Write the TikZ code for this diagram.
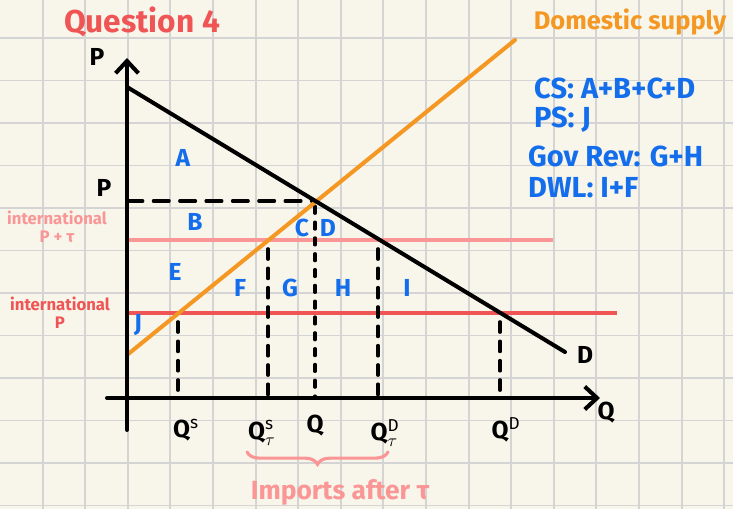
\documentclass[tikz,border=0pt]{standalone}
\usepackage{fontspec}
\setmainfont{Fira Sans}
\usetikzlibrary{arrows.meta,decorations.pathreplacing}

\definecolor{paper}{RGB}{248,246,235}
\definecolor{gridgray}{RGB}{212,212,212}
\definecolor{supplyorange}{RGB}{245,152,35}
\definecolor{tariffpink}{RGB}{250,150,150}
\definecolor{worldred}{RGB}{240,85,85}
\definecolor{labelblue}{RGB}{20,110,235}

\begin{document}
\begin{tikzpicture}[x=0.02cm,y=-0.02cm,
  gridline/.style={gridgray,line width=1.1pt},
  axis/.style={line width=2.3pt,line cap=round,-{Straight Barb[length=7pt,width=13pt]}},
  curve/.style={line width=2.3pt,line cap=round},
  guide/.style={line width=1.8pt,line cap=round,dash pattern=on 6pt off 5pt},
  area/.style={labelblue,font=\bfseries\fontsize{14}{14}\selectfont},
  qlabel/.style={font=\bfseries\fontsize{14}{14}\selectfont},
  note/.style={labelblue,font=\bfseries\fontsize{16.5}{16.5}\selectfont,anchor=west},
  small/.style={font=\bfseries\fontsize{9.5}{10}\selectfont,align=center}]
% paper and grid
\useasboundingbox (0,0) rectangle (733,509);
\fill[paper] (0,0) rectangle (733,509);
\foreach \i in {1,...,17} \draw[gridline] (42.6*\i,0) -- (42.6*\i,509);
\foreach \j in {0,...,11} \draw[gridline] (0,38+42.5*\j) -- (733,38+42.5*\j);
% key points
\coordinate (O) at (127,398);
\coordinate (ytop) at (127,58);
\coordinate (ybot) at (127,430);
\coordinate (xleft) at (107,398);
\coordinate (xright) at (600,398);
\coordinate (dtop) at (127,87);
\coordinate (dend) at (565,352);
\coordinate (sbot) at (127,355);
\coordinate (stop) at (515,40);
\coordinate (eq) at (315,201);
\coordinate (tleft) at (127,240);
\coordinate (tright) at (553,240);
\coordinate (wleft) at (127,313);
\coordinate (wright) at (617,313);
\coordinate (qsT) at (268,240);
\coordinate (qdT) at (378,240);
\coordinate (qs) at (178,313);
\coordinate (qd) at (500,313);
% price lines
\draw[tariffpink,line width=1.8pt] (tleft) -- (tright);
\draw[worldred,line width=1.8pt] (wleft) -- (wright);
\draw[guide,dash pattern=on 9pt off 6pt] (eq -| O) -- (eq);
% guides down to the axis
\draw[guide] ([yshift=-5pt]qs) -- (qs |- O);
\draw[guide] ([yshift=-5pt]qsT) -- (qsT |- O);
\draw[guide,dash pattern=on 4pt off 5pt] ([yshift=-3pt]eq) -- (eq |- O);
\draw[guide] ([yshift=-5pt]qdT) -- (qdT |- O);
\draw[guide] ([yshift=-5pt]qd) -- (qd |- O);
% curves
\draw[supplyorange,curve] (sbot) -- (stop);
\draw[curve] (dtop) -- (dend);
% axes
\draw[axis] (ybot) -- (ytop);
\draw[axis] (xleft) -- (xright);
% axis labels
\node[qlabel] (plab) at (97,57) {P};
\node[qlabel] (qlab) at (606,413) {Q};
\node[qlabel] (peq) at (104,188) {P};
\node[qlabel] (dlab) at (585,355) {D};
\node[qlabel] (qslab) at (186,430) {Q$^{\mathrm{s}}$};
\node[qlabel] (qsTlab) at (262,433) {Q$^{\mathrm{s}}_{\tau}$};
\node[qlabel] (qlab2) at (315,426) {Q};
\node[qlabel] (qdTlab) at (385,433) {Q$^{\mathrm{D}}_{\tau}$};
\node[qlabel] (qdlab) at (506,430) {Q$^{\mathrm{D}}$};
% areas
\node[area] (A) at (183,158) {A};
\node[area] (B) at (195,222) {B};
\node[area] (C) at (302,228) {C};
\node[area] (D) at (328,228) {D};
\node[area] (E) at (175,272) {E};
\node[area] (F) at (240,288) {F};
\node[area] (G) at (290,288) {G};
\node[area] (H) at (343,288) {H};
\node[area] (I) at (407,288) {I};
\node[area] (J) at (138,325) {J};
% price labels
\node[small,tariffpink] (tlab) at (57,227) {international\\P + τ};
\node[small,worldred] (wlab) at (60,313) {international\\P};
% imports brace
\coordinate (bl) at (247,452);
\coordinate (br) at (388,452);
\draw[tariffpink,line width=1.8pt,line cap=round,decorate,decoration={brace,amplitude=7pt,mirror}] (bl) -- (br);
\node[tariffpink,font=\bfseries\fontsize{15}{15}\selectfont] (imp) at (340,492) {Imports after τ};
% titles and results
\node[worldred,font=\bfseries\fontsize{18}{18}\selectfont] (title) at (142,22) {Question 4};
\node[supplyorange,font=\bfseries\fontsize{14.5}{15}\selectfont] (slab) at (630,22) {Domestic supply};
\node[note] (cs) at (528,88) {CS: A+B+C+D};
\node[note] (ps) at (528,120) {PS: J};
\node[note] (gov) at (522,156) {Gov Rev: G+H};
\node[note] (dwl) at (522,188) {DWL: I+F};
\end{tikzpicture}
\end{document}
